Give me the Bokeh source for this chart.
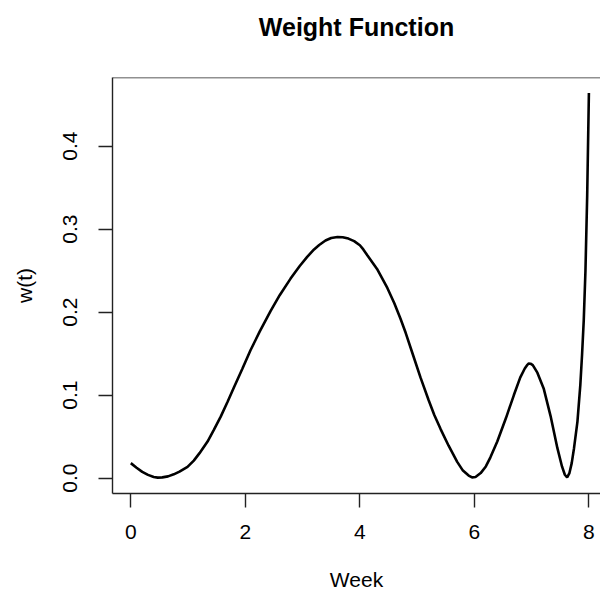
from bokeh.plotting import figure
from bokeh.models import FixedTicker, PrintfTickFormatter, Span, Range1d
from bokeh.embed import file_html
from bokeh.resources import INLINE

# values
week = [0.0, 0.1, 0.2, 0.3, 0.4, 0.47, 0.55, 0.65, 0.75, 0.85, 0.99, 1.1, 1.2,
        1.34, 1.45, 1.57, 1.69, 1.80, 1.95, 2.09, 2.25, 2.44, 2.6, 2.79, 2.95,
        3.08, 3.2, 3.29, 3.4, 3.5, 3.61, 3.7, 3.8, 3.9, 4.0, 4.06, 4.13, 4.3,
        4.48, 4.6, 4.71, 4.80, 4.93, 5.06, 5.2, 5.3, 5.41, 5.55, 5.70, 5.8,
        5.9, 5.96, 6.02, 6.11, 6.2, 6.28, 6.40, 6.55, 6.69, 6.8, 6.88, 6.92,
        6.95, 6.98, 7.02, 7.1, 7.21, 7.33, 7.45, 7.53, 7.58, 7.62, 7.66, 7.70,
        7.74, 7.80, 7.85, 7.88, 7.91, 7.94, 7.97, 8.0]
weight = [0.018, 0.0125, 0.0075, 0.0038, 0.0012, 0.0005, 0.0008, 0.002, 0.0045,
          0.0078, 0.0135, 0.021, 0.030, 0.044, 0.058, 0.074, 0.092, 0.109,
          0.132, 0.154, 0.1764, 0.2011, 0.2203, 0.2403, 0.2555, 0.2665, 0.2755,
          0.2808, 0.2862, 0.2893, 0.2905, 0.2902, 0.2885, 0.2855, 0.2805,
          0.2755, 0.2685, 0.252, 0.229, 0.211, 0.192, 0.175, 0.148, 0.121,
          0.094, 0.076, 0.059, 0.039, 0.0195, 0.009, 0.003, 0.0008, 0.0012,
          0.006, 0.014, 0.025, 0.044, 0.072, 0.100, 0.121, 0.132, 0.136, 0.138,
          0.1378, 0.136, 0.127, 0.108, 0.075, 0.036, 0.014, 0.004, 0.0008,
          0.006, 0.018, 0.036, 0.068, 0.112, 0.148, 0.19, 0.25, 0.34, 0.464]

x_ticks = [0, 2, 4, 6, 8]
y_ticks = [0.0, 0.1, 0.2, 0.3, 0.4]
title_text = "Weight Function"

FONT = "Liberation Sans"

p = figure(width=600, height=594, output_backend="svg", toolbar_location=None,
           x_range=Range1d(-0.32, 8.2026), y_range=Range1d(-0.0186, 0.4826),
           min_border_left=112, min_border_right=0, min_border_top=77,
           min_border_bottom=101, title=title_text + "\n\u00a0")

p.line(week, weight, line_color="black", line_width=2.6)

p.outline_line_color = None
p.xgrid.grid_line_color = None
p.ygrid.grid_line_color = None
p.background_fill_color = "white"
p.border_fill_color = "white"

p.add_layout(Span(location=0.4826, dimension="width", line_color="#222222",
                  line_width=1.4))

p.title.text_font = FONT
p.title.text_font_size = "25px"
p.title.text_font_style = "bold"
p.title.align = "center"
p.title.offset = 3
p.title.standoff = 17
p.title.text_color = "black"

for ax in (p.xaxis[0], p.yaxis[0]):
    ax.axis_line_color = "#222222"
    ax.axis_line_width = 1.4
    ax.major_tick_line_color = "#222222"
    ax.major_tick_line_width = 1.4
    ax.major_tick_out = 14
    ax.major_tick_in = 0
    ax.minor_tick_line_color = None
    ax.major_label_text_font = FONT
    ax.major_label_text_font_size = "21px"
    ax.major_label_text_color = "black"
    ax.axis_label_text_font = FONT
    ax.axis_label_text_font_size = "21px"
    ax.axis_label_text_font_style = "normal"
    ax.axis_label_text_color = "black"

p.xaxis.ticker = FixedTicker(ticks=x_ticks)
p.xaxis.axis_label = "Week"
p.xaxis.major_label_standoff = 17
p.xaxis.axis_label_standoff = 26

p.yaxis.ticker = FixedTicker(ticks=y_ticks)
p.yaxis.formatter = PrintfTickFormatter(format="%.1f")
p.yaxis.major_label_orientation = "vertical"
p.yaxis.axis_label = "w(t)"
p.yaxis.major_label_standoff = 21
p.yaxis.axis_label_standoff = 25

open("out.html", "w").write(file_html(p, INLINE))
